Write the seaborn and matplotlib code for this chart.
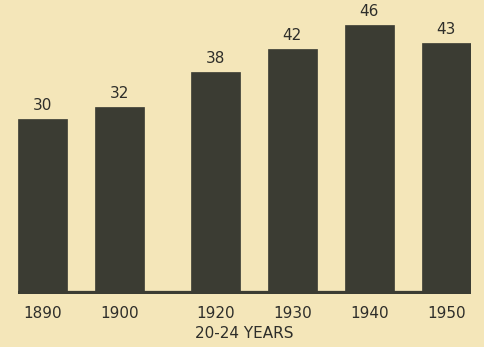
import matplotlib
matplotlib.use("Agg")
import matplotlib.pyplot as plt
import seaborn as sns
import pandas as pd

# Percentage married, men aged 20-24, by census year
years = [1890, 1900, 1920, 1930, 1940, 1950]
values = [30, 32, 38, 42, 46, 43]
tick_labels = ["1890", "1900", "1920", "1930", "1940", "1950"]
group_label = "20-24 YEARS"

BG = "#f4e6b9"
BAR = "#3b3c33"
INK = "#2e2e2a"

sns.set_theme(style="white")
plt.rcParams["font.family"] = ["DejaVu Sans"]

# slot positions: one step per decade, with a narrower gap where 1910 is absent
positions = [i + (0.24 if y > 1910 else 0.0) for i, y in enumerate(years)]
df = pd.DataFrame({"pos": positions, "value": values})

fig = plt.figure(figsize=(4.84, 3.47), dpi=100, facecolor=BG)
ax = fig.add_axes([18 / 484, 53 / 347, 453 / 484, 294 / 347])
ax.set_facecolor(BG)

sns.barplot(data=df, x="pos", y="value", native_scale=True, width=0.64,
            color=BAR, saturation=1, edgecolor=BAR, linewidth=0.5, ax=ax)

ax.set_xlim(positions[0] - 0.32, positions[-1] + 0.32)
ax.set_ylim(0, 50.3)

# value labels above each bar
for p, v in zip(positions, values):
    ax.text(p, v + 1.0, str(v), ha="center", va="bottom",
            fontsize=11, color=INK)

# heavy baseline
ax.axhline(0, color=BAR, linewidth=4.5, solid_capstyle="butt")

ax.set_xticks(positions)
ax.set_xticklabels(tick_labels, fontsize=11, color=INK)
ax.tick_params(axis="x", length=0, pad=9)
ax.set_yticks([])
ax.set_xlabel(group_label, fontsize=11, color=INK, labelpad=3)
ax.set_ylabel("")
for s in ax.spines.values():
    s.set_visible(False)

fig.savefig("out.png", dpi=100, facecolor=BG)
